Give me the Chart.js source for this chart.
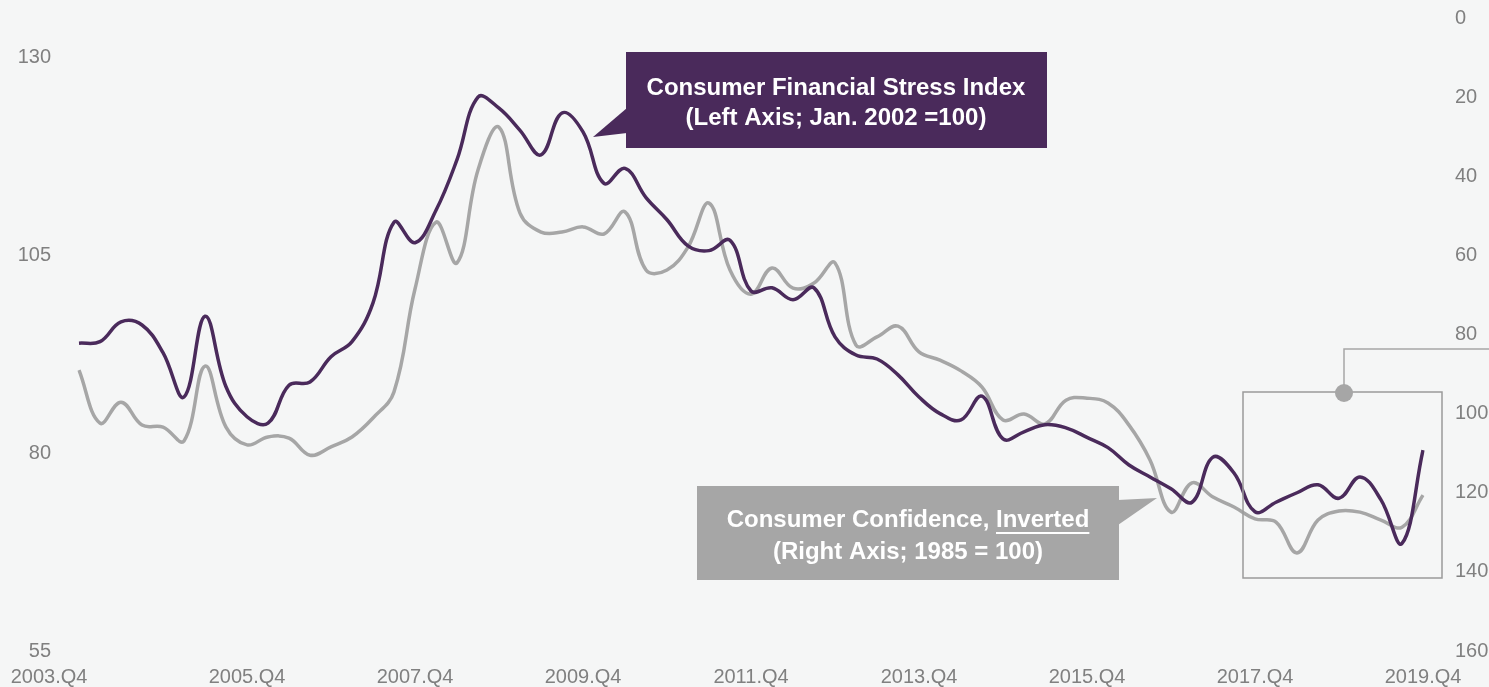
<!DOCTYPE html>
<html>
<head>
<meta charset="utf-8">
<script src="https://cdn.jsdelivr.net/npm/chart.js@4.4.1/dist/chart.umd.min.js"></script>
<style>
    html, body { margin: 0; padding: 0; background: #f5f6f6; }
    #wrap { width: 1489px; height: 687px; }
</style>
</head>
<body>
<div id="wrap"><canvas id="stressChart" width="1489" height="687"></canvas></div>
<script>
// quarterly categories 2003.Q4 .. 2019.Q4
const quarters = [];
for (let y = 2003, q = 4; quarters.length < 65; ) {
    quarters.push(y + '.Q' + q);
    q++;
    if (q > 4) { q = 1; y++; }
}

// Consumer Financial Stress Index (left axis, Jan. 2002 = 100)
const stressIndex = [
    93.9, 94.1, 96.6, 96.2, 92.7, 87.1, 97.3, 88.4, 84.6, 83.8,
    88.6, 89.0, 92.2, 94.1, 99.0, 109.2, 106.6, 110.7, 117.1, 125.0,
    123.6, 120.8, 117.7, 123.0, 120.6, 114.1, 116.0, 112.3, 109.5, 106.2,
    105.6, 106.9, 100.5, 100.9, 99.4, 100.9, 94.7, 92.4, 91.9, 89.9,
    87.1, 85.0, 84.2, 87.2, 81.8, 82.7, 83.6, 83.2, 82.0, 80.7,
    78.5, 77.0, 75.5, 73.8, 79.5, 77.5, 72.6, 73.8, 75.0, 76.0,
    74.3, 77.0, 74.1, 68.6, 80.4
];

// Consumer Confidence (right axis, inverted, 1985 = 100)
const confidence = [
    89.0, 102.4, 97.1, 102.9, 103.4, 106.9, 88.0, 103.4, 107.9, 105.9,
    106.2, 110.5, 108.4, 105.9, 101.1, 94.5, 68.5, 51.6, 61.9, 38.4,
    27.6, 49.3, 54.1, 54.1, 52.8, 54.6, 49.0, 63.7, 63.7, 57.9,
    46.8, 63.7, 69.8, 63.2, 68.3, 67.0, 61.9, 82.7, 80.6, 77.9,
    84.4, 86.5, 89.2, 93.3, 101.6, 100.1, 102.6, 96.6, 96.1, 97.3,
    102.9, 111.7, 124.9, 117.5, 121.1, 123.6, 126.6, 127.4, 135.2, 126.9,
    124.6, 124.9, 126.9, 128.7, 120.6
];

const leftTicks = [55, 80, 105, 130];
const rightTicks = [0, 20, 40, 60, 80, 100, 120, 140, 160];

const PURPLE = '#4a2a5b';
const GREY = '#a6a6a6';
const TICK_COLOR = '#808080';
const FONT = '"Liberation Sans", Arial, sans-serif';

// background fill, and nudge the first x label left like the original
const background = {
    id: 'background',
    beforeDraw(chart) {
        const ctx = chart.ctx;
        ctx.save();
        ctx.fillStyle = '#f5f6f6';
        ctx.fillRect(0, 0, chart.width, chart.height);
        ctx.restore();

        const items = chart.scales.x.getLabelItems();
        if (items.length && items[0].label === quarters[0] && !items[0]._moved) {
            items[0].options.translation[0] -= 30;
            items[0]._moved = true;
        }
    }
};

// callout boxes and the highlight frame
const callouts = {
    id: 'callouts',
    afterDatasetsDraw(chart) {
        const ctx = chart.ctx;
        ctx.save();

        // purple label box
        ctx.fillStyle = PURPLE;
        ctx.fillRect(626, 52, 421, 96);
        ctx.beginPath();
        ctx.moveTo(627, 108);
        ctx.lineTo(593, 137);
        ctx.lineTo(627, 133);
        ctx.closePath();
        ctx.fill();

        ctx.fillStyle = '#ffffff';
        ctx.font = 'bold 24px ' + FONT;
        ctx.textAlign = 'center';
        ctx.textBaseline = 'middle';
        ctx.fillText('Consumer Financial Stress Index', 836, 88);
        ctx.fillText('(Left Axis; Jan. 2002 =100)', 836, 118);

        // grey label box
        ctx.fillStyle = GREY;
        ctx.fillRect(697, 486, 422, 94);
        ctx.beginPath();
        ctx.moveTo(1118, 500);
        ctx.lineTo(1157, 498);
        ctx.lineTo(1118, 525);
        ctx.closePath();
        ctx.fill();

        ctx.fillStyle = '#ffffff';
        const partA = 'Consumer Confidence, ';
        const partB = 'Inverted';
        const wA = ctx.measureText(partA).width;
        const wB = ctx.measureText(partB).width;
        const x0 = 908 - (wA + wB) / 2;
        ctx.textAlign = 'left';
        ctx.fillText(partA, x0, 520);
        ctx.fillText(partB, x0 + wA, 520);
        ctx.fillRect(x0 + wA, 532, wB, 2);
        ctx.textAlign = 'center';
        ctx.fillText('(Right Axis; 1985 = 100)', 908, 552);

        // highlight frame on the latest years
        ctx.strokeStyle = '#9a9a9a';
        ctx.lineWidth = 1.5;
        ctx.strokeRect(1243, 392, 199, 186);

        ctx.strokeStyle = GREY;
        ctx.beginPath();
        ctx.moveTo(1344, 393);
        ctx.lineTo(1344, 349);
        ctx.lineTo(1489, 349);
        ctx.stroke();

        ctx.fillStyle = GREY;
        ctx.beginPath();
        ctx.arc(1344, 393, 9, 0, Math.PI * 2);
        ctx.fill();

        ctx.restore();
    }
};

// fixed axis sizes, no extra label padding so the plot spans 79..1423 x 18..651
function fixBox(w, h) {
    return s => {
        if (w !== null) s.width = w;
        if (h !== null) s.height = h;
        s.paddingTop = 0;
        s.paddingBottom = 0;
        s.paddingLeft = 0;
        s.paddingRight = 0;
    };
}

const ctx = document.getElementById('stressChart').getContext('2d');
new Chart(ctx, {
    type: 'line',
    data: {
        labels: quarters,
        datasets: [
            {
                label: 'Consumer Financial Stress Index',
                data: stressIndex,
                yAxisID: 'yL',
                borderColor: PURPLE,
                borderWidth: 3.5,
                pointRadius: 0,
                tension: 0.4,
                fill: false
            },
            {
                label: 'Consumer Confidence, Inverted',
                data: confidence,
                yAxisID: 'yR',
                borderColor: GREY,
                borderWidth: 3.5,
                pointRadius: 0,
                tension: 0.4,
                fill: false
            }
        ]
    },
    options: {
        responsive: false,
        animation: false,
        events: [],
        layout: { padding: { top: 18, left: 0, right: 0, bottom: 0 } },
        plugins: {
            legend: { display: false },
            tooltip: { enabled: false },
            title: { display: false }
        },
        scales: {
            x: {
                type: 'category',
                offset: false,
                grid: { display: false, drawTicks: false },
                border: { display: false },
                afterFit: fixBox(null, 36),
                ticks: {
                    autoSkip: false,
                    maxRotation: 0,
                    minRotation: 0,
                    padding: 14,
                    color: TICK_COLOR,
                    font: { family: FONT, size: 20 },
                    callback: (v, i) => (i % 8 === 0 ? quarters[i] : '')
                }
            },
            yL: {
                type: 'linear',
                position: 'left',
                min: 55,
                max: 135,
                grid: { display: false, drawTicks: false },
                border: { display: false },
                afterFit: fixBox(79, null),
                afterBuildTicks: s => { s.ticks = leftTicks.map(v => ({ value: v })); },
                ticks: {
                    padding: 28,
                    color: TICK_COLOR,
                    font: { family: FONT, size: 20 }
                }
            },
            yR: {
                type: 'linear',
                position: 'right',
                min: 0,
                max: 160,
                reverse: true,
                grid: { display: false, drawTicks: false },
                border: { display: false },
                afterFit: fixBox(66, null),
                afterBuildTicks: s => { s.ticks = rightTicks.map(v => ({ value: v })); },
                ticks: {
                    padding: 32,
                    color: TICK_COLOR,
                    font: { family: FONT, size: 20 }
                }
            }
        }
    },
    plugins: [background, callouts]
});
</script>
</body>
</html>
